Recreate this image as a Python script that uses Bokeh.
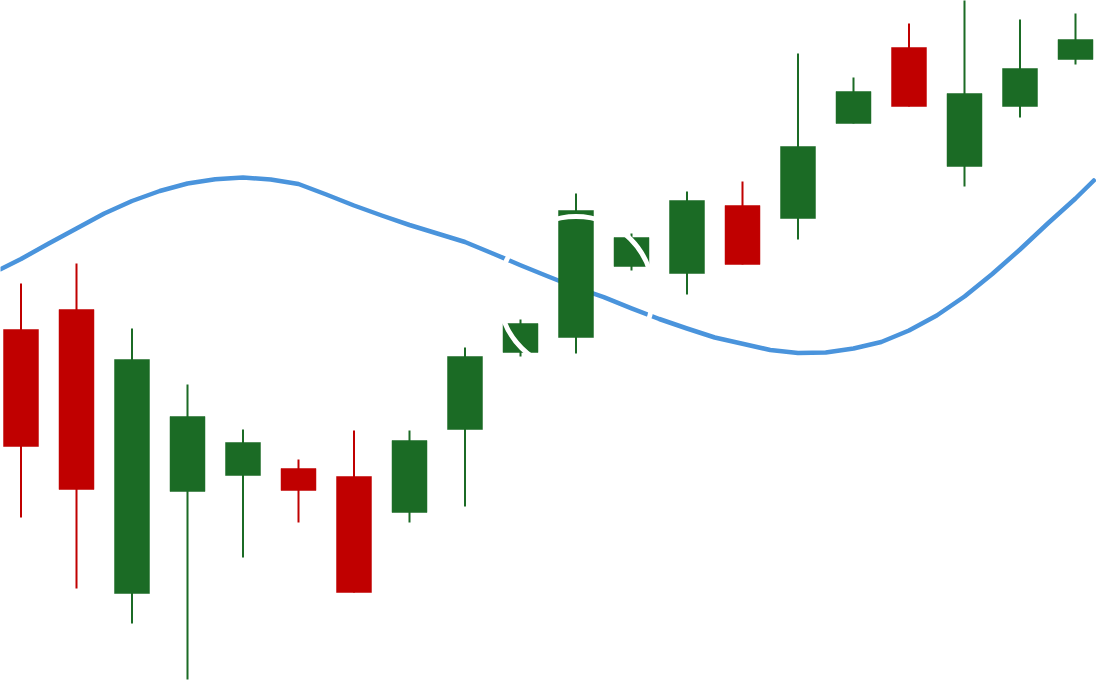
from bokeh.plotting import figure
from bokeh.models import Range1d, ColumnDataSource
from bokeh.embed import file_html
from bokeh.resources import INLINE

# --- data ---
idx = list(range(20))
opens = [117.1, 119.1, 90.7, 100.9, 102.5, 103.2, 102.4, 98.8, 107.1, 114.8,
         116.3, 123.4, 122.7, 129.5, 128.2, 137.7, 145.3, 133.4, 139.4, 144.1]
closes = [105.4, 101.1, 114.1, 108.4, 105.8, 101.0, 90.8, 106.0, 114.4, 117.7,
          129.0, 126.3, 130.0, 123.6, 135.4, 140.9, 139.4, 140.7, 143.2, 146.1]
highs = [121.7, 123.7, 117.2, 111.6, 107.1, 104.1, 107.0, 107.0, 115.3, 118.1,
         130.7, 126.7, 130.9, 131.9, 144.7, 142.3, 147.7, 150.5, 148.1, 148.7]
lows = [98.3, 91.2, 87.7, 82.1, 94.3, 97.8, 90.8, 97.8, 99.4, 114.4,
        114.7, 123.0, 120.6, 123.6, 126.1, 137.7, 139.4, 131.4, 138.3, 143.6]

line_x = [-0.37, 0, 0.5, 1, 1.5, 2, 2.5, 3, 3.5, 4, 4.5, 5, 5.5, 6, 6.5, 7, 7.5,
          8, 8.5, 9, 9.5, 10, 10.5, 11, 11.5, 12, 12.5, 13, 13.5, 14, 14.5, 15,
          15.5, 16, 16.5, 17, 17.5, 18, 18.5, 19, 19.33]
line_y = [123.13, 124.15, 125.7, 127.2, 128.7, 129.95, 130.95, 131.7, 132.13,
          132.3, 132.1, 131.65, 130.6, 129.5, 128.5, 127.55, 126.7, 125.85,
          124.7, 123.53, 122.4, 121.3, 120.33, 119.22, 118.15, 117.2, 116.3,
          115.67, 115.05, 114.75, 114.8, 115.2, 115.85, 117.0, 118.5, 120.4,
          122.65, 125.1, 127.7, 130.2, 132.0]

highlight_x = [10]
highlight_y = [120.7]

UP = "#1b6b25"
DOWN = "#c00000"
colors = [UP if c > o else DOWN for o, c in zip(opens, closes)]
tops = [max(o, c) for o, c in zip(opens, closes)]
bottoms = [min(o, c) for o, c in zip(opens, closes)]

src = ColumnDataSource(dict(x=idx, top=tops, bottom=bottoms, high=highs,
                            low=lows, color=colors))

p = figure(width=1096, height=681, output_backend="svg", toolbar_location=None,
           x_range=Range1d(-0.3694, 19.3784), y_range=Range1d(81.9, 150.0),
           min_border=0, min_border_left=0, min_border_right=0,
           min_border_top=0, min_border_bottom=0)
p.axis.visible = False
p.grid.visible = False
p.outline_line_color = None
p.background_fill_color = "white"
p.border_fill_color = "white"

p.line(line_x, line_y, line_color="#4a94dc", line_width=4.5,
       line_join="round", line_cap="round")

p.segment(x0="x", y0="low", x1="x", y1="high", source=src,
          line_color="color", line_width=2)
p.vbar(x="x", width=0.63, top="top", bottom="bottom", source=src,
       fill_color="color", line_color="color", line_width=0.5)

p.scatter(highlight_x, highlight_y, size=154, marker="circle",
          fill_alpha=0, line_color="white", line_width=5)

open("out.html", "w").write(file_html(p, INLINE))
